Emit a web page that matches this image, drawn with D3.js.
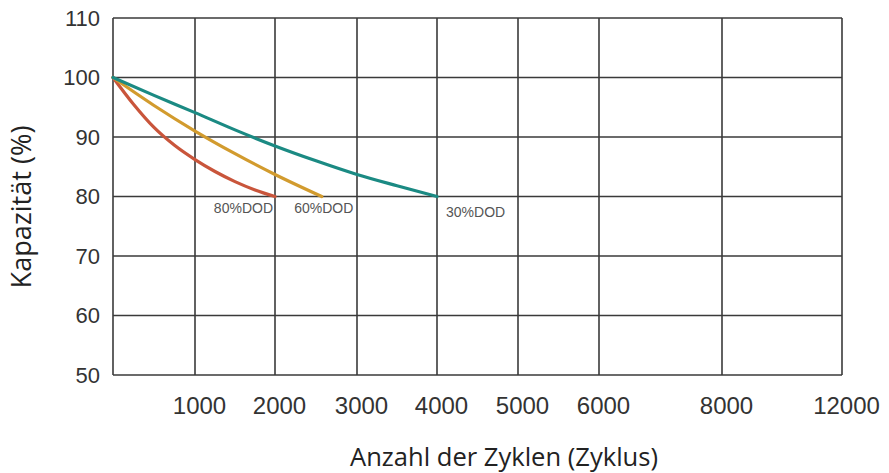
<!DOCTYPE html>
<html>
<head>
<meta charset="utf-8">
<script src="https://cdn.jsdelivr.net/npm/d3@7"></script>
<style>
  html, body { margin: 0; padding: 0; background: #ffffff; }
  svg { display: block; }
</style>
</head>
<body>
<svg id="chart" width="889" height="473"></svg>
<script>
// ---- data ----
const xTickValues = [1000, 2000, 3000, 4000, 5000, 6000, 8000, 12000];
const xTickLabels = ["1000", "2000", "3000", "4000", "5000", "6000", "8000", "12000"];
const yTickValues = [50, 60, 70, 80, 90, 100, 110];

const seriesNames = ["80%DOD", "60%DOD", "30%DOD"];
const dod80Cycles = [0, 250, 500, 750, 1000, 1250, 1500, 1750, 2000];
const dod80Capacity = [100, 95.5, 91.6, 88.6, 86.2, 84.2, 82.5, 81.1, 80];
const dod60Cycles = [0, 500, 1000, 1500, 2000, 2570];
const dod60Capacity = [100, 95.3, 91.0, 87.2, 83.7, 80];
const dod30Cycles = [0, 500, 1000, 1500, 2000, 2500, 3000, 3500, 4000];
const dod30Capacity = [100, 97.0, 94.1, 91.2, 88.5, 86.0, 83.7, 81.8, 80];

// ---- layout ----
const svg = d3.select("#chart");
const pLeft = 113, pRight = 842, pTop = 18, pBottom = 375;

// piecewise x axis (grid columns are not evenly spaced in value)
const xDomain = [0].concat(xTickValues);
const xRange = [pLeft, 195, 275, 357, 437, 518, 599, 722, pRight];
const x = d3.scaleLinear().domain(xDomain).range(xRange);
const y = d3.scaleLinear().domain([50, 110]).range([pBottom, pTop]);

const gridColor = "#3a3a3a";

// horizontal grid lines
svg.append("g").selectAll("line").data(yTickValues).join("line")
  .attr("x1", pLeft).attr("x2", pRight)
  .attr("y1", d => y(d)).attr("y2", d => y(d))
  .attr("stroke", gridColor).attr("stroke-width", 1.6);

// vertical grid lines
svg.append("g").selectAll("line").data(xDomain).join("line")
  .attr("x1", d => x(d)).attr("x2", d => x(d))
  .attr("y1", pTop).attr("y2", pBottom)
  .attr("stroke", gridColor).attr("stroke-width", 1.6);

// y axis labels
const yAxis = d3.axisLeft(y).tickValues(yTickValues).tickSize(0).tickPadding(13).tickFormat(d3.format("d"));
const gy = svg.append("g").attr("transform", `translate(${pLeft},0)`).call(yAxis);
gy.select(".domain").remove();
gy.selectAll("text")
  .attr("font-family", "'Liberation Sans', Arial, sans-serif")
  .attr("font-size", 22).attr("fill", "#333");

// x axis labels
const xAxis = d3.axisBottom(x).tickValues(xTickValues).tickSize(0).tickPadding(0)
  .tickFormat((d, i) => xTickLabels[i]);
const gx = svg.append("g").attr("transform", `translate(0,${pBottom})`).call(xAxis);
gx.select(".domain").remove();
gx.selectAll("text")
  .attr("font-family", "'Liberation Sans', Arial, sans-serif")
  .attr("font-size", 24).attr("fill", "#333")
  .attr("dy", null).attr("y", 39).attr("dx", 4);

// curves
const colors = ["#c9553b", "#d29b2e", "#1b8a83"];
const series = [
  dod80Cycles.map((c, i) => [c, dod80Capacity[i]]),
  dod60Cycles.map((c, i) => [c, dod60Capacity[i]]),
  dod30Cycles.map((c, i) => [c, dod30Capacity[i]])
];
const line = d3.line().x(d => x(d[0])).y(d => y(d[1])).curve(d3.curveMonotoneX);
svg.append("g").selectAll("path").data(series).join("path")
  .attr("d", line)
  .attr("fill", "none")
  .attr("stroke", (d, i) => colors[i])
  .attr("stroke-width", 3.2)
  .attr("stroke-linecap", "round");

// series labels
const labelFont = "'Liberation Sans', Arial, sans-serif";
const lab = svg.append("g").attr("font-family", labelFont).attr("font-size", 14).attr("fill", "#555");
const lastPt = s => s[s.length - 1];
lab.append("text").text(seriesNames[0])
  .attr("x", x(lastPt(series[0])[0]) - 2).attr("y", y(lastPt(series[0])[1]) + 16)
  .attr("text-anchor", "end");
lab.append("text").text(seriesNames[1])
  .attr("x", x(lastPt(series[1])[0]) + 2).attr("y", y(lastPt(series[1])[1]) + 16)
  .attr("text-anchor", "middle");
lab.append("text").text(seriesNames[2])
  .attr("x", x(lastPt(series[2])[0]) + 9).attr("y", y(lastPt(series[2])[1]) + 20)
  .attr("text-anchor", "start");

// axis titles, fitted to the reference widths
const titleFont = "'Open Sans', 'Noto Sans', sans-serif";
function fit(sel, target) {
  const w = sel.node().getComputedTextLength();
  const fs = +sel.attr("font-size");
  sel.attr("font-size", (fs * target / w).toFixed(2));
}
const xt = svg.append("text").text("Anzahl der Zyklen (Zyklus)")
  .attr("x", 504).attr("y", 466).attr("text-anchor", "middle")
  .attr("font-family", titleFont).attr("font-size", 24).attr("fill", "#222");
fit(xt, 308);
const yt = svg.append("text").text("Kapazität (%)")
  .attr("transform", "translate(31,207) rotate(-90)").attr("text-anchor", "middle")
  .attr("font-family", titleFont).attr("font-size", 24).attr("fill", "#222");
fit(yt, 163);
</script>
</body>
</html>
